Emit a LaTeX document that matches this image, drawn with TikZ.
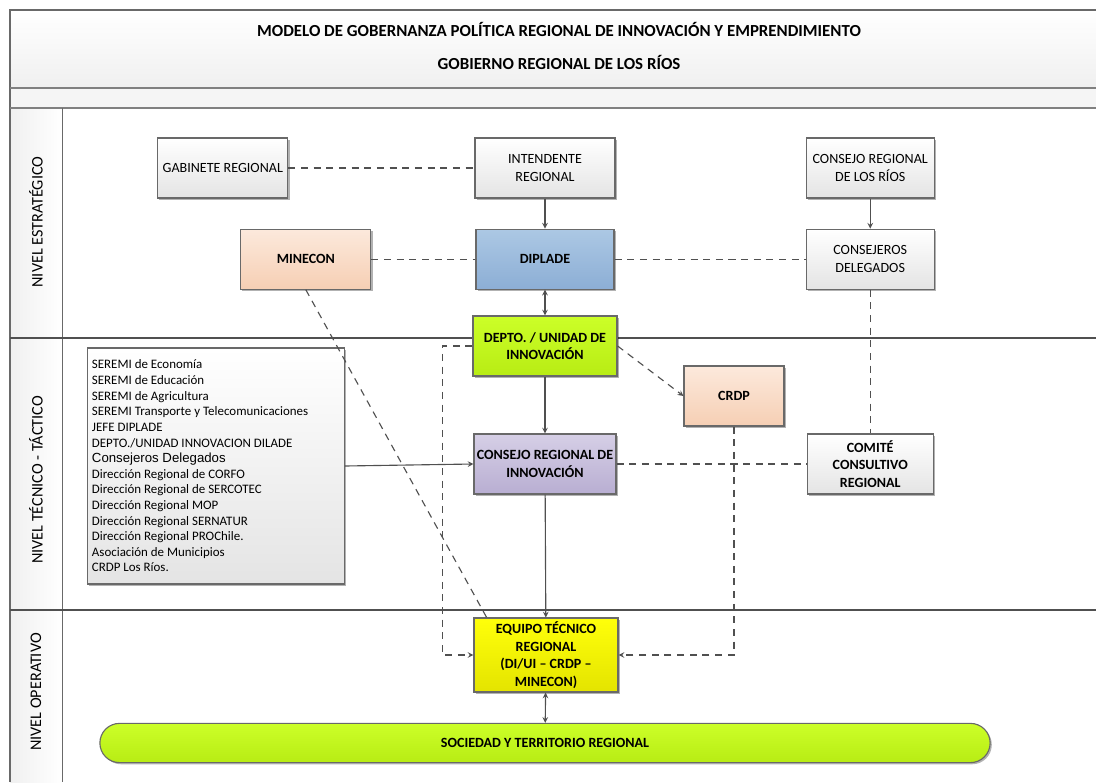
\documentclass[tikz,border=0pt]{standalone}
\usepackage{fontspec}
\setmainfont{Carlito}
\newfontfamily\arialfont{Liberation Sans}
\usepackage{xcolor}
\definecolor{boxline}{RGB}{105,105,105}
\definecolor{conline}{RGB}{80,80,80}
\definecolor{boxgray}{RGB}{228,228,228}
\definecolor{peachtop}{RGB}{252,233,220}
\definecolor{peachbot}{RGB}{246,207,180}
\definecolor{bluetop}{RGB}{172,200,228}
\definecolor{bluebot}{RGB}{140,174,213}
\definecolor{limetop}{RGB}{204,255,40}
\definecolor{limebot}{RGB}{184,236,20}
\definecolor{lilactop}{RGB}{214,207,230}
\definecolor{lilacbot}{RGB}{184,174,210}
\definecolor{yellowtop}{RGB}{255,255,10}
\definecolor{yellowbot}{RGB}{228,228,0}
\usetikzlibrary{shapes,arrows,positioning,calc,shadows}

\begin{document}
\begin{tikzpicture}[
    x=0.025cm, y=-0.025cm,
    node distance=1cm,
    box/.style={rectangle, draw=boxline, line width=0.8pt, top color=white, bottom color=boxgray, minimum height=1.5cm, inner sep=2pt, align=center, font=\fontsize{10}{12.5}\selectfont, drop shadow={shadow xshift=1.2pt, shadow yshift=-1.2pt, opacity=0.3, fill=black}},
    keybox/.style={box, font=\fontsize{10}{12.5}\selectfont\bfseries},
    lvl/.style={rotate=90, font=\fontsize{11.5}{13}\selectfont},
    arrow/.style={->, >=stealth, line width=0.8pt, conline},
    twoway/.style={<->, >=stealth, line width=0.8pt, conline},
    dline/.style={dashed, dash pattern=on 5pt off 4pt, line width=0.8pt, conline},
    darrow/.style={dline, ->, >=stealth}
]
\useasboundingbox (0,0) rectangle (1096,782);

% Frame and header
\fill[top color=white, bottom color=gray!12] (10,10) rectangle (1100,88);
\fill[gray!8] (10,88) rectangle (1100,108);
\fill[left color=gray!12, right color=white] (10,108) rectangle (62,782);
\draw[boxline, line width=0.8pt] (1100,10) -- (10,10) -- (10,782);
\draw[gray, line width=1.5pt] (10,88) -- (1100,88);
\draw[gray, line width=1.5pt] (10,108) -- (1100,108);
\draw[boxline, line width=0.6pt] (62,108) -- (62,782);
\draw[conline, line width=0.8pt] (10,338) -- (1100,338);
\draw[conline, line width=0.8pt] (10,610) -- (1100,610);
\node[font=\fontsize{12}{14}\selectfont\bfseries] (title) at (559,29) {MODELO DE GOBERNANZA POLÍTICA REGIONAL DE INNOVACIÓN Y EMPRENDIMIENTO};
\node[font=\fontsize{12}{14}\selectfont\bfseries] (gore) at (559,62) {GOBIERNO REGIONAL DE LOS RÍOS};

% Levels
\node[lvl] (lvlest) at (36,222) {NIVEL ESTRATÉGICO};
\node[lvl] (lvltec) at (36,480) {NIVEL TÉCNICO - TÁCTICO};
\node[lvl] (lvlope) at (36,692) {NIVEL OPERATIVO};

% Strategic level
\node[box, minimum width=3.5cm] (inten) at (545,168) {INTENDENTE\\REGIONAL};
\node[box, minimum width=3.25cm, left=4.65cm of inten] (gab) {GABINETE REGIONAL};
\node[box, minimum width=3.2cm, right=4.75cm of inten] (crr) {CONSEJO REGIONAL\\DE LOS RÍOS};
\node[keybox, minimum width=3.45cm, top color=bluetop, bottom color=bluebot, below=0.75cm of inten] (dip) {DIPLADE};
\node[keybox, minimum width=3.25cm, top color=peachtop, bottom color=peachbot, left=2.6cm of dip] (minec) {MINECON};
\node[box, minimum width=3.2cm, below=0.75cm of crr] (cdel) {CONSEJEROS\\DELEGADOS};

% Technical level
\node[keybox, minimum width=3.6cm, top color=limetop, bottom color=limebot] (depto) at (545,346) {DEPTO. / UNIDAD DE\\INNOVACIÓN};
\node[keybox, minimum width=3.55cm, top color=lilactop, bottom color=lilacbot] (cri) at (545,464) {CONSEJO REGIONAL DE\\INNOVACIÓN};
\node[keybox, minimum width=2.5cm, top color=peachtop, bottom color=peachbot] (crdp) at (734,396) {CRDP};
\node[keybox, minimum width=3.15cm] (comite) at (cri -| crr) {COMITÉ\\CONSULTIVO\\REGIONAL};
\node[box, minimum width=6.4cm, minimum height=5.9cm, text width=6.2cm, inner sep=3pt, align=flush left, font=\fontsize{9.2}{11.1}\selectfont] (lista) at (216,466) {%
SEREMI de Economía\\
SEREMI de Educación\\
SEREMI de Agricultura\\
SEREMI Transporte y Telecomunicaciones\\
JEFE DIPLADE\\
DEPTO./UNIDAD INNOVACION DILADE\\
{\arialfont\fontsize{9.4}{11.1}\selectfont Consejeros Delegados}\\
Dirección Regional de CORFO\\
Dirección Regional de SERCOTEC\\
Dirección Regional MOP\\
Dirección Regional SERNATUR\\
Dirección Regional PROChile.\\
Asociación de Municipios\\
CRDP Los Ríos.};

% Operative level
\node[keybox, minimum width=3.6cm, minimum height=1.85cm, top color=yellowtop, bottom color=yellowbot] (equipo) at (546,655) {EQUIPO TÉCNICO\\REGIONAL\\(DI/UI – CRDP –\\MINECON)};
\node[keybox, rounded corners=0.49cm, minimum width=22.25cm, minimum height=0.98cm, top color=limetop, bottom color=limebot] (soc) at (545,743) {SOCIEDAD Y TERRITORIO REGIONAL};

% Connectors
\draw[dline] (gab) -- (inten);
\draw[arrow] (inten) -- (dip);
\draw[arrow] (crr) -- (cdel);
\draw[dline] (minec) -- (dip);
\draw[dline] (dip) -- (cdel);
\draw[twoway] (dip) -- (depto);
\draw[dline] (cdel) -- (comite);
\draw[darrow] (depto.east) -- (crdp.west);
\draw[arrow] (depto) -- (cri);
\draw[arrow] (lista.east) -- (cri.west);
\draw[dline] (cri) -- (comite);
\draw[arrow] (cri) -- (equipo);
\draw[darrow] (depto.west) -- ++(-30,0) |- (equipo.west);
\draw[darrow] (crdp.south) |- (equipo.east);
\draw[dline] (minec.south) -- ([xshift=0.33cm]equipo.north west);
\draw[twoway] (equipo) -- (soc);
\end{tikzpicture}
\end{document}
